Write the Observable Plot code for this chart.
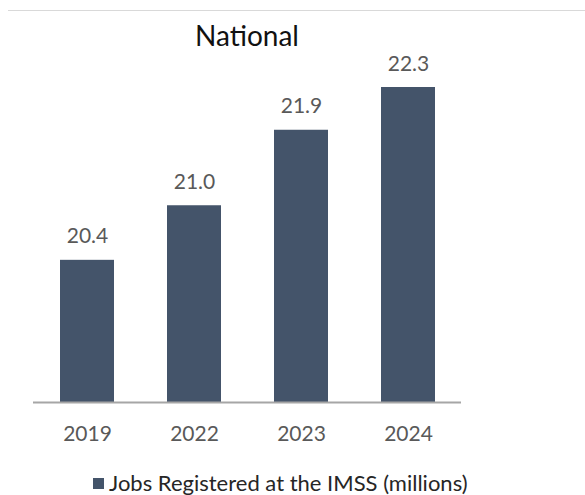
<!DOCTYPE html>
<html>
<head>
<meta charset="utf-8">
<script src="https://cdn.jsdelivr.net/npm/d3@7"></script>
<script src="https://cdn.jsdelivr.net/npm/@observablehq/plot@0.6"></script>
<style>
  body { margin: 0; background: #fff; font-family: Lato, "Open Sans", sans-serif; }
  #wrap { position: relative; width: 585px; height: 495px; overflow: hidden; }
  #topline { position: absolute; left: 8px; right: 0; top: 10px; border-top: 1px solid #d9d9d9; }
  #title { position: absolute; left: 33px; width: 428px; top: 19px; text-align: center; font-size: 28px; color: #111; line-height: 32px; }
  #chart { position: absolute; left: 0; top: 0; }
  #legend { position: absolute; left: 93px; top: 470px; font-size: 22px; color: #262626; display: flex; align-items: center; line-height: 26px; white-space: nowrap; }
  #legend .sw { width: 11px; height: 11px; background: #44546A; margin-right: 5px; }
</style>
</head>
<body>
<div id="wrap">
  <div id="topline"></div>
  <div id="chart"></div>
  <div id="title"></div>
  <div id="legend"><span class="sw"></span><span id="legtext"></span></div>
</div>
<script>
const titleText = "National";
const seriesName = "Jobs Registered at the IMSS (millions)";
const years = ["2019", "2022", "2023", "2024"];
const jobs = [20.4, 21.0, 21.83, 22.3];
const valueLabels = ["20.4", "21.0", "21.9", "22.3"];
const yBase = 18.837;
const yTop = 22.3;

const data = years.map((y, i) => ({ year: y, value: jobs[i], label: valueLabels[i] }));

document.getElementById("title").textContent = titleText;
document.getElementById("legtext").textContent = seriesName;

const chart = Plot.plot({
  width: 585,
  height: 455,
  marginLeft: 33,
  marginRight: 124,
  marginTop: 87,
  marginBottom: 53,
  style: { fontFamily: "Lato, 'Open Sans', sans-serif", color: "#595959", background: "transparent" },
  x: { domain: years, paddingInner: 0.5, paddingOuter: 0.25, label: null },
  y: { domain: [yBase, yTop], axis: null },
  marks: [
    Plot.barY(data, { x: "year", y1: yBase, y2: "value", fill: "#44546A" }),
    Plot.ruleY([yBase], { stroke: "#a6a6a6", strokeWidth: 2 }),
    Plot.text(data, { x: "year", y: "value", text: "label", dy: -17, lineAnchor: "bottom", fontSize: 21, fill: "#595959" }),
    Plot.axisX({ tickSize: 0, tickPadding: 24, fontSize: 21, label: null })
  ]
});
document.getElementById("chart").appendChild(chart);
</script>
</body>
</html>
